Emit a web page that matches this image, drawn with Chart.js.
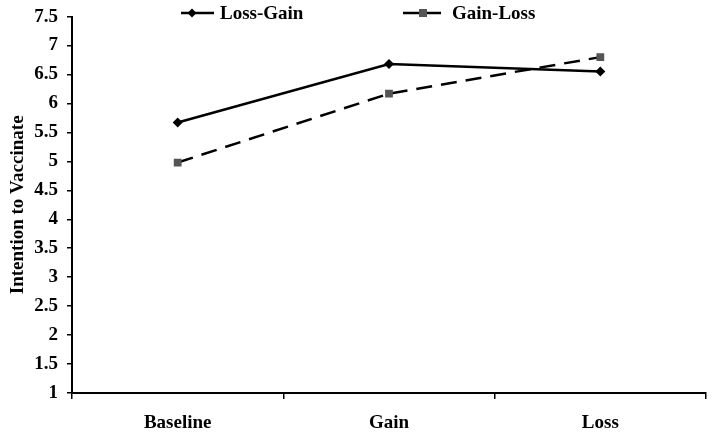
<!DOCTYPE html>
<html>
<head>
<meta charset="utf-8">
<script src="https://cdn.jsdelivr.net/npm/chart.js@4"></script>
<style>
  html, body { margin: 0; padding: 0; background: #fff; }
  #wrap { width: 714px; height: 436px; }
</style>
</head>
<body>
<div id="wrap"><canvas id="intent-graph" width="714" height="436"></canvas></div>
<script>
const ctx = document.getElementById('intent-graph');
const phaseLabels = ['Baseline', 'Gain', 'Loss'];
const lossGainValues = [5.67, 6.68, 6.55];
const gainLossValues = [4.98, 6.17, 6.8];
const seriesNames = ['Loss-Gain', 'Gain-Loss'];
const fontFamily = '"Liberation Serif", "Times New Roman", serif';

// legend drawn on top of the plot, like the original figure
const overlayLegend = {
  id: 'overlayLegend',
  afterDraw(chart) {
    const c = chart.ctx;
    const items = [
      { x1: 181, x2: 214, mx: 192, tx: 220, ds: chart.data.datasets[0] },
      { x1: 403, x2: 441, mx: 423, tx: 452, ds: chart.data.datasets[1] }
    ];
    const y = 13;
    c.save();
    items.forEach(function(it) {
      c.strokeStyle = '#000';
      c.lineWidth = 2.5;
      c.setLineDash([]);
      c.beginPath();
      c.moveTo(it.x1, y);
      c.lineTo(it.x2, y);
      c.stroke();
      c.fillStyle = it.ds.pointBackgroundColor;
      c.beginPath();
      if (it.ds.pointStyle === 'rectRot') {
        c.moveTo(it.mx, y - 4.5); c.lineTo(it.mx + 4.5, y);
        c.lineTo(it.mx, y + 4.5); c.lineTo(it.mx - 4.5, y);
        c.closePath();
      } else {
        c.rect(it.mx - 4, y - 4, 8, 8);
      }
      c.fill();
      c.fillStyle = '#000';
      c.font = 'bold 19px ' + fontFamily;
      c.textBaseline = 'middle';
      c.textAlign = 'left';
      c.fillText(it.ds.label, it.tx, y + 1);
    });
    c.restore();
  }
};

new Chart(ctx, {
  type: 'line',
  data: {
    labels: phaseLabels,
    datasets: [{
      label: seriesNames[0],
      data: lossGainValues,
      borderColor: '#000',
      borderWidth: 2.5,
      pointStyle: 'rectRot',
      pointRadius: 5,
      pointBackgroundColor: '#000',
      pointBorderColor: '#000',
      pointBorderWidth: 0,
      tension: 0
    }, {
      label: seriesNames[1],
      data: gainLossValues,
      borderColor: '#000',
      borderWidth: 2.5,
      borderDash: [16, 9],
      pointStyle: 'rect',
      pointRadius: 5.5,
      pointBackgroundColor: '#555',
      pointBorderColor: '#555',
      pointBorderWidth: 0,
      tension: 0
    }]
  },
  options: {
    responsive: false,
    animation: false,
    layout: { padding: { top: 15, right: 8, left: 0, bottom: 0 } },
    plugins: {
      legend: { display: false },
      tooltip: { enabled: false }
    },
    scales: {
      x: {
        offset: true,
        afterFit(scale) { scale.height = 43; },
        grid: {
          offset: true,
          drawOnChartArea: false,
          tickLength: 6,
          color: '#000',
          lineWidth: 1.5
        },
        border: { color: '#000', width: 2 },
        ticks: {
          color: '#000',
          padding: 13,
          font: { family: fontFamily, size: 19, weight: 'bold' }
        }
      },
      y: {
        min: 1,
        max: 7.5,
        afterFit(scale) { scale.width = 72; },
        grid: {
          drawOnChartArea: false,
          tickLength: 5,
          color: '#000',
          lineWidth: 1.5
        },
        border: { color: '#000', width: 2 },
        ticks: {
          stepSize: 0.5,
          color: '#000',
          padding: 9,
          callback: function(v) { return String(v); },
          font: { family: fontFamily, size: 19, weight: 'bold', lineHeight: 0.8 }
        },
        title: {
          display: true,
          text: 'Intention to Vaccinate',
          color: '#000',
          padding: { top: 7, bottom: 0 },
          font: { family: fontFamily, size: 19, weight: 'bold' }
        }
      }
    }
  },
  plugins: [overlayLegend]
});
</script>
</body>
</html>
